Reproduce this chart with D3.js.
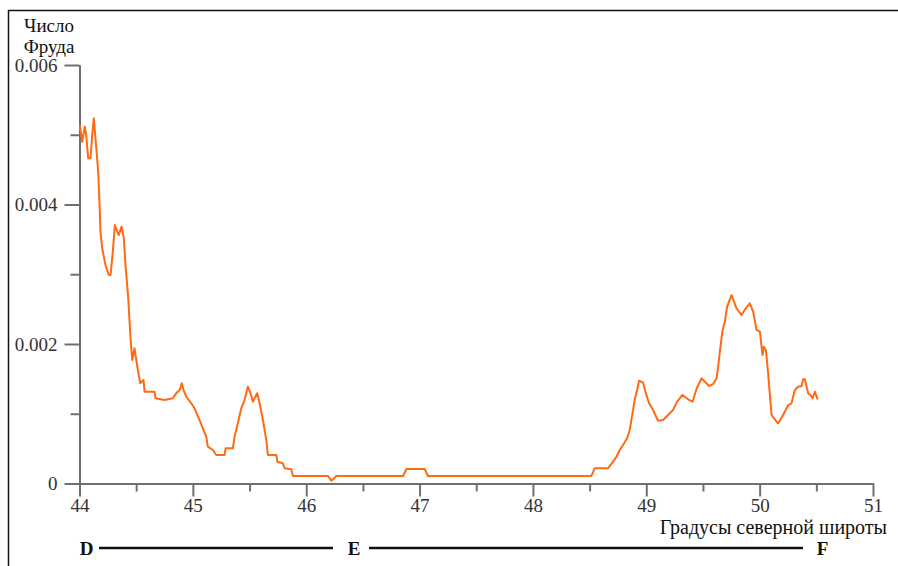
<!DOCTYPE html>
<html>
<head>
<meta charset="utf-8">
<script src="https://cdn.jsdelivr.net/npm/d3@7"></script>
<style>
  body { margin: 0; background: #fff; }
  svg { display: block; }
  text { font-family: "Liberation Serif", "Times New Roman", serif; }
</style>
</head>
<body>
<div id="chart"></div>
<script>
// latitude, degrees north
var lat = [44.003,44.024,44.047,44.059,44.077,44.097,44.112,44.126,44.141,44.165,44.177,44.185,44.200,44.229,44.259,44.274,
  44.294,44.312,44.333,44.347,44.371,44.391,44.406,44.430,44.450,44.465,44.485,44.515,44.536,44.565,44.574,44.662,44.671,
  44.750,44.823,44.853,44.883,44.903,44.918,44.942,44.986,45.015,45.059,45.088,45.118,45.132,45.177,45.207,45.280,45.289,
  45.353,45.368,45.397,45.427,45.456,45.485,45.509,45.530,45.545,45.568,45.589,45.618,45.648,45.662,45.736,45.745,45.794,
  45.809,45.868,45.883,46.191,46.222,46.266,46.854,46.884,47.045,47.074,48.516,48.545,48.663,48.678,48.707,48.737,48.766,
  48.795,48.831,48.854,48.878,48.898,48.919,48.936,48.972,48.996,49.025,49.060,49.104,49.148,49.192,49.236,49.272,49.319,
  49.369,49.408,49.443,49.487,49.516,49.554,49.590,49.620,49.634,49.649,49.673,49.693,49.713,49.752,49.796,49.840,49.878,
  49.913,49.943,49.973,50.002,50.017,50.026,50.037,50.055,50.075,50.105,50.149,50.163,50.207,50.252,50.281,50.311,50.340,
  50.370,50.384,50.399,50.428,50.449,50.467,50.487,50.511];

// Froude number
var froude = [0.005140,0.004900,0.005115,0.004996,0.004662,0.004662,0.004996,0.005236,0.004949,0.004470,0.003993,0.003610,
  0.003372,0.003133,0.002989,0.002989,0.003323,0.003706,0.003610,0.003563,0.003682,0.003515,0.003133,0.002655,0.002082,
  0.001771,0.001938,0.001627,0.001437,0.001484,0.001316,0.001316,0.001222,0.001197,0.001222,0.001293,0.001340,0.001437,
  0.001340,0.001244,0.001150,0.001078,0.000910,0.000791,0.000671,0.000528,0.000480,0.000409,0.000409,0.000505,0.000505,
  0.000671,0.000863,0.001078,0.001197,0.001388,0.001293,0.001173,0.001222,0.001293,0.001150,0.000910,0.000624,0.000409,
  0.000409,0.000313,0.000290,0.000218,0.000204,0.000108,0.000108,0.000040,0.000108,0.000108,0.000208,0.000208,0.000108,
  0.000108,0.000218,0.000218,0.000251,0.000313,0.000384,0.000480,0.000552,0.000648,0.000767,0.001006,0.001197,0.001340,
  0.001474,0.001445,0.001293,0.001150,0.001054,0.000900,0.000910,0.000982,0.001054,0.001173,0.001269,0.001207,0.001173,
  0.001355,0.001508,0.001460,0.001398,0.001427,0.001508,0.001675,0.001890,0.002201,0.002320,0.002535,0.002702,0.002512,
  0.002416,0.002512,0.002583,0.002463,0.002201,0.002176,0.001961,0.001842,0.001961,0.001914,0.001580,0.000982,0.000886,
  0.000863,0.000982,0.001125,0.001150,0.001340,0.001388,0.001398,0.001494,0.001494,0.001293,0.001269,0.001222,0.001316,
  0.001207];

var xTicks = [44, 45, 46, 47, 48, 49, 50, 51];
var xMinor = [44.5, 45.5, 46.5, 47.5, 48.5, 49.5, 50.5];
var yTicks = [0, 0.002, 0.004, 0.006];
var yMinor = [0.001, 0.003, 0.005];
var yTitle = ["Число", "Фруда"];
var xTitle = "Градусы северной широты";
var route = ["D", "E", "F"];

var w = 898, h = 566;
var axisColor = "#6f6f6f";
var serif = "'Liberation Serif', 'Times New Roman', serif";

var svg = d3.select("#chart").append("svg")
  .attr("width", w)
  .attr("height", h);

// frame (only top and left edges are in view)
svg.append("path")
  .attr("d", "M8.5,566V10.5H898")
  .attr("fill", "none")
  .attr("stroke", "#111")
  .attr("stroke-width", 1.5);

var x = d3.scaleLinear().domain([44, 51]).range([79.5, 873]);
var y = d3.scaleLinear().domain([0, 0.006]).range([483.5, 65]);

function styleAxis(g) {
  g.attr("font-family", serif);
  g.select(".domain").attr("stroke", axisColor).attr("stroke-width", 2);
  g.selectAll(".tick line").attr("stroke", axisColor).attr("stroke-width", 2);
  g.selectAll(".tick text")
    .attr("fill", "#333")
    .style("font-family", serif)
    .style("font-size", "19px");
}

// minor ticks first, major axes on top
svg.append("g")
  .attr("transform", "translate(0,483.5)")
  .call(d3.axisBottom(x).tickValues(xMinor).tickSize(8).tickFormat("").tickSizeOuter(0))
  .call(styleAxis);
svg.append("g")
  .attr("transform", "translate(79.5,0)")
  .call(d3.axisLeft(y).tickValues(yMinor).tickSize(9).tickFormat("").tickSizeOuter(0))
  .call(styleAxis);

svg.append("g")
  .attr("transform", "translate(0,483.5)")
  .call(d3.axisBottom(x).tickValues(xTicks).tickSize(13).tickPadding(2).tickFormat(d3.format("d")).tickSizeOuter(0))
  .call(styleAxis);

svg.append("g")
  .attr("transform", "translate(79.5,0)")
  .call(d3.axisLeft(y).tickValues(yTicks).tickSize(15).tickPadding(7)
    .tickFormat(function(d) { return d === 0 ? "0" : d3.format(".3f")(d); }).tickSizeOuter(0))
  .call(styleAxis);

// axis titles
svg.selectAll(".ytitle")
  .data(yTitle)
  .enter()
  .append("text")
  .attr("class", "ytitle")
  .attr("x", 49)
  .attr("y", function(d, i) { return 32 + i * 21; })
  .attr("text-anchor", "middle")
  .attr("fill", "#111")
  .style("font-size", "19px")
  .text(function(d) { return d; });

svg.append("text")
  .attr("x", 887)
  .attr("y", 534)
  .attr("text-anchor", "end")
  .attr("fill", "#111")
  .style("font-size", "20px")
  .text(xTitle);

// the curve
var line = d3.line()
  .x(function(d) { return x(d[0]); })
  .y(function(d) { return y(d[1]); });

svg.append("path")
  .datum(d3.zip(lat, froude))
  .attr("d", line)
  .attr("fill", "none")
  .attr("stroke", "#ff6a12")
  .attr("stroke-width", 2)
  .attr("stroke-linejoin", "round");

// transect D - E - F below the axis
var routeX = [86.5, 354, 822.5];
var ry = 548;
svg.selectAll(".route")
  .data(route)
  .enter()
  .append("text")
  .attr("class", "route")
  .attr("x", function(d, i) { return routeX[i]; })
  .attr("y", ry + 7)
  .attr("text-anchor", "middle")
  .attr("fill", "#111")
  .style("font-size", "19px")
  .style("font-weight", "bold")
  .text(function(d) { return d; });

svg.append("line").attr("x1", 99).attr("x2", 333).attr("y1", ry).attr("y2", ry)
  .attr("stroke", "#111").attr("stroke-width", 2.5);
svg.append("line").attr("x1", 369).attr("x2", 803).attr("y1", ry).attr("y2", ry)
  .attr("stroke", "#111").attr("stroke-width", 2.5);
</script>
</body>
</html>
